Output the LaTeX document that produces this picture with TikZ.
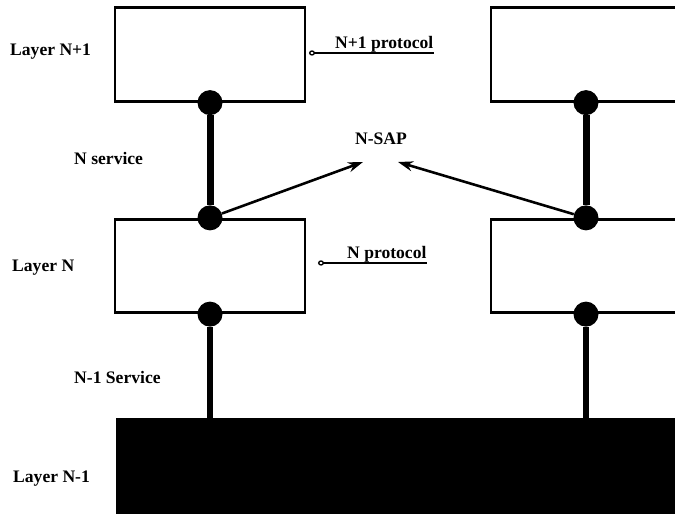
\documentclass[tikz,border=0pt]{standalone}
\usepackage{fontspec}
\setmainfont{Liberation Serif}
\usepackage{tikz}
\usetikzlibrary{arrows.meta, positioning}

\begin{document}
\begin{tikzpicture}[
  >=Stealth, font=\fontsize{15}{18}\selectfont\bfseries,
  box/.style={draw=black, line width=2.5pt, fill=white,
              minimum width=5.7cm, minimum height=2.8cm, inner sep=0pt},
  ground/.style={fill=black, minimum width=17cm, minimum height=3.2cm, inner sep=0pt},
  dot/.style={circle, fill=black, minimum size=0.75cm, inner sep=0pt},
  svc/.style={line width=0.21cm},
  sap/.style={-{Stealth[length=4.5mm, width=3mm]}, line width=2.2pt},
  uline/.style={-{Circle[open, length=1.8mm, width=1.6mm]}, line width=1.2pt},
  lbl/.style={anchor=west, inner sep=0pt},
  proto/.style={anchor=base west, inner sep=0pt}
]
\clip (0,0) rectangle (20.25,15.42);

% layer N-1
\node[ground, anchor=north west] (net) at (3.48,2.88) {};

% layer boxes
\node[box] (upL)  at (6.3,13.785)  {};
\node[box] (midL) at (6.3,7.44)    {};
\node[box] (upR)  at (17.58,13.785) {};
\node[box] (midR) at (17.58,7.44)   {};

% service access points
\node[dot] (a1) at (upL.south)  {};
\node[dot] (a2) at (midL.north) {};
\node[dot] (a3) at (midL.south) {};
\node[dot] (b1) at (upR.south)  {};
\node[dot] (b2) at (midR.north) {};
\node[dot] (b3) at (midR.south) {};

% services
\draw[svc] (a1) -- (a2);
\draw[svc] (b1) -- (b2);
\draw[line width=0.18cm] (a3) -- (a3 |- net.north);
\draw[line width=0.18cm] (b3) -- (b3 |- net.north);

% left labels
\node[lbl] (l1) at (0.3,13.86) {Layer N+1};
\node[lbl] (s1) at (2.22,10.68) {N service};
\node[lbl] (l2) at (0.36,7.38)  {Layer N};
\node[lbl] (s2) at (2.22,4.11)  {N-1 Service};
\node[lbl] (l3) at (0.39,1.05)  {Layer N-1};

% N-SAP
\node (nsap) at (11.43,11.25) {N-SAP};
\coordinate (sapL) at (10.89,10.56);
\coordinate (sapR) at (11.94,10.56);
\draw[sap] (a2) -- (sapL);
\draw[sap] (b2) -- (sapR);

% protocols
\node[proto] (p1) at (10.05,13.95) {N+1 protocol};
\node[proto] (p2) at (10.41,7.65)  {N protocol};
\coordinate (t1) at (9.27,13.86);
\coordinate (t2) at (9.54,7.56);
\draw[uline] (p1.south east) -- (p1.south east -| t1);
\draw[uline] (p2.south east) -- (p2.south east -| t2);
\end{tikzpicture}
\end{document}
